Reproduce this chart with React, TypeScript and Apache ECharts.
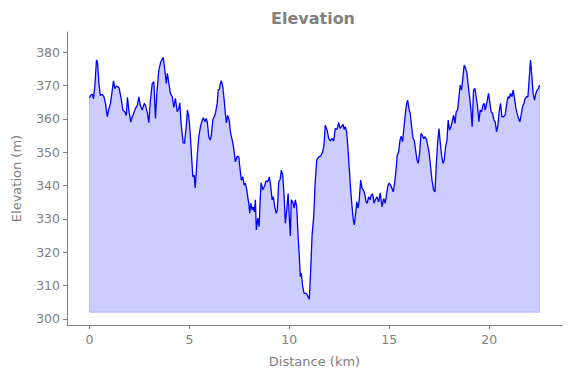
import React, { useEffect, useRef } from "react";
import * as echarts from "echarts";

const distanceKm: number[] = [
  0, 0.05, 0.14, 0.2, 0.27, 0.35, 0.4, 0.47, 0.54, 0.64, 0.72, 0.8, 0.89, 0.97, 1.05, 1.14, 1.2, 1.27, 1.34, 1.47,
  1.57, 1.67, 1.77, 1.84, 1.9, 1.97, 2.07, 2.14, 2.24, 2.3, 2.4, 2.47, 2.54, 2.64, 2.74, 2.8, 2.9, 2.97, 3.05, 3.14,
  3.22, 3.3, 3.37, 3.47, 3.57, 3.69, 3.77, 3.84, 3.9, 3.97, 4.05, 4.14, 4.22, 4.3, 4.39, 4.47, 4.52, 4.59, 4.69, 4.75,
  4.84, 4.9, 4.97, 5.04, 5.1, 5.17, 5.24, 5.29, 5.34, 5.4, 5.47, 5.55, 5.64, 5.7, 5.77, 5.84, 5.9, 5.97, 6.04, 6.1,
  6.17, 6.24, 6.3, 6.39, 6.44, 6.5, 6.55, 6.6, 6.67, 6.74, 6.8, 6.85, 6.92, 6.99, 7.05, 7.14, 7.22, 7.3, 7.39, 7.47,
  7.54, 7.6, 7.67, 7.74, 7.8, 7.87, 7.94, 7.97, 8.02, 8.07, 8.14, 8.19, 8.25, 8.3, 8.35, 8.42, 8.49, 8.54, 8.59, 8.67,
  8.75, 8.84, 8.92, 9.0, 9.07, 9.14, 9.2, 9.27, 9.34, 9.4, 9.47, 9.54, 9.6, 9.67, 9.74, 9.8, 9.87, 9.94, 10.0, 10.05,
  10.1, 10.17, 10.24, 10.3, 10.37, 10.44, 10.5, 10.55, 10.6, 10.67, 10.74, 10.84, 10.94, 11.0, 11.07, 11.14, 11.22, 11.29, 11.37, 11.47,
  11.57, 11.67, 11.73, 11.8, 11.89, 11.97, 12.05, 12.14, 12.22, 12.3, 12.39, 12.47, 12.54, 12.6, 12.69, 12.74, 12.8, 12.87, 12.94, 13.0,
  13.07, 13.14, 13.2, 13.25, 13.32, 13.37, 13.44, 13.5, 13.57, 13.64, 13.7, 13.77, 13.84, 13.9, 13.97, 14.04, 14.1, 14.17, 14.24, 14.3,
  14.39, 14.47, 14.55, 14.64, 14.72, 14.8, 14.87, 14.94, 15.0, 15.07, 15.14, 15.2, 15.27, 15.34, 15.4, 15.47, 15.54, 15.6, 15.67, 15.74,
  15.8, 15.87, 15.92, 16.0, 16.05, 16.12, 16.19, 16.25, 16.32, 16.39, 16.45, 16.52, 16.59, 16.65, 16.72, 16.8, 16.87, 16.94, 17.0, 17.07,
  17.14, 17.22, 17.29, 17.35, 17.42, 17.49, 17.55, 17.62, 17.69, 17.75, 17.82, 17.89, 17.95, 18.02, 18.09, 18.15, 18.22, 18.29, 18.35, 18.42,
  18.49, 18.55, 18.62, 18.69, 18.75, 18.82, 18.89, 18.95, 19.02, 19.09, 19.15, 19.22, 19.29, 19.35, 19.42, 19.49, 19.55, 19.62, 19.69, 19.75,
  19.8, 19.89, 19.97, 20.04, 20.1, 20.17, 20.24, 20.3, 20.37, 20.44, 20.5, 20.57, 20.64, 20.72, 20.8, 20.87, 20.94, 21.0, 21.07, 21.14,
  21.2, 21.27, 21.34, 21.4, 21.47, 21.54, 21.6, 21.67, 21.74, 21.8, 21.87, 21.94, 22.0, 22.07, 22.14, 22.2, 22.27, 22.34, 22.4, 22.47,
  22.52,
];

const elevationM: number[] = [
  366.2, 367, 367.4, 366, 370, 377.6, 377, 370.6, 367, 367.3, 366.6, 364.6, 360.6, 363, 364.6, 368.6, 371.4, 369, 369.8, 369.4,
  366.6, 362.6, 362, 361, 366.4, 362.6, 359, 360.6, 362.1, 363.1, 364.1, 366.6, 364.1, 362.6, 364.6, 364.1, 361.6, 358.8, 365.6, 370.6,
  371.1, 360.1, 367.6, 374.6, 377.1, 378.4, 374.6, 370.6, 373.6, 370.6, 367.6, 366.6, 363.4, 366.1, 362.1, 363.1, 364.8, 358.1, 352.8, 352.6,
  357.6, 362.6, 360.6, 355.6, 349.6, 342.6, 343.1, 339.3, 343.6, 349.6, 354.6, 357.6, 359.6, 360.3, 359.1, 360.1, 358.8, 354.6, 353.6, 355.1,
  359.6, 360.6, 361.6, 364.6, 368.6, 368.8, 370.6, 371.4, 369.6, 365.6, 361.6, 358.8, 361, 359.6, 356.1, 353.6, 351.1, 347.1, 348.8, 348.6,
  344.6, 341.6, 342.6, 340.1, 340.7, 338.7, 335.7, 334.7, 331.7, 334.7, 332.7, 333.6, 332.1, 335.7, 326.7, 330.2, 327.7, 335.7, 340.8, 338.7,
  339.7, 341.4, 341.1, 342.6, 339.7, 335.7, 336.6, 333.6, 331.7, 332.7, 341.1, 341.8, 344.6, 343.1, 336.6, 328.7, 332.7, 337.6, 330.6, 324.9,
  335.7, 335.1, 333.2, 335.7, 333.6, 324.7, 318.7, 312.7, 313.7, 309.7, 307.7, 307.7, 306.7, 305.9, 314.7, 325.2, 330.6, 340.7, 347.6, 348.6,
  348.8, 350.1, 352, 358.1, 356.6, 354.1, 353.4, 354.1, 353.3, 357.1, 356.8, 358.9, 357.1, 357.6, 358.3, 356.8, 357.6, 356.1, 350.6, 345.1,
  338.7, 333.6, 329.7, 328.2, 331.7, 335.1, 333.2, 335.7, 341.6, 339.1, 338.7, 337.6, 335.1, 334.7, 336.6, 335.7, 337.1, 337.5, 334.7, 335.7,
  336.6, 335.1, 337.8, 333.6, 336.1, 334.7, 337.5, 340.1, 340.7, 340.1, 339.1, 338.1, 340.7, 344.6, 349.1, 350.1, 353.6, 354.8, 353.1, 357.6,
  361.1, 364.6, 365.6, 362.6, 361.6, 357.6, 354.1, 353.6, 350.6, 347.6, 346.6, 349.6, 355.6, 355.1, 354.1, 354.6, 353.6, 351.6, 349.6, 345.6,
  341.6, 338.7, 338.1, 345.6, 352.6, 357.1, 353.1, 349.1, 346.6, 347.6, 351.6, 353.6, 359.6, 356.6, 357.6, 359.1, 361.1, 358.6, 362.1, 362.6,
  366.6, 370.1, 368.6, 372.6, 376.1, 375.1, 373.6, 370.1, 366.6, 362.6, 357.6, 368.6, 369.1, 366.6, 363.6, 359.1, 362.6, 362.1, 364.1, 364.6,
  362.6, 365, 367.6, 364.6, 362.1, 361.6, 359.6, 359.1, 356.1, 358.1, 362.1, 364.6, 360.6, 360.6, 361.1, 364.1, 366.6, 366.1, 367.6, 366.6,
  368.6, 366.1, 363.1, 361.6, 360.1, 359.1, 361.1, 363.6, 364.6, 366.1, 366.6, 366.6, 371.6, 377.6, 372.6, 367.6, 365.6, 367.6, 368.6, 369.1,
  370.1,
];

const fillBaseline = 302;
const xTickValues: number[] = [0, 5, 10, 15, 20];
const yTickValues: number[] = [300, 310, 320, 330, 340, 350, 360, 370, 380];

const GRAY = "#808080";
const FONT = "DejaVu Sans";

export default function App() {
  const ref = useRef<HTMLDivElement>(null);

  useEffect(() => {
    document.body.style.margin = "0";
    if (!ref.current) return;
    const chart = echarts.init(ref.current, null, { renderer: "svg" });
    const profile = distanceKm.map((d, i) => [d, elevationM[i]]);
    const n = distanceKm.length;
    const edge = [
      [distanceKm[0], elevationM[0]],
      [distanceKm[0], fillBaseline],
      [distanceKm[n - 1], fillBaseline],
      [distanceKm[n - 1], elevationM[n - 1]],
    ];
    chart.setOption({
      animation: false,
      backgroundColor: "#ffffff",
      title: {
        text: "Elevation",
        left: 271,
        top: 10,
        padding: 0,
        textStyle: { fontFamily: FONT, fontSize: 16, fontWeight: "bold", color: GRAY },
      },
      grid: { left: 67, right: 9, top: 32, bottom: 53, containLabel: false },
      xAxis: {
        type: "value",
        min: -1.126,
        max: 23.646,
        name: "Distance (km)",
        nameLocation: "middle",
        nameGap: 30,
        nameTextStyle: { fontFamily: FONT, fontSize: 13, color: GRAY },
        axisLine: { show: true, onZero: false, lineStyle: { color: GRAY, width: 1 } },
        axisTick: { show: true, inside: false, length: 4, customValues: xTickValues, lineStyle: { color: GRAY } },
        axisLabel: { customValues: xTickValues, margin: 8, fontFamily: FONT, fontSize: 12.5, color: GRAY },
        splitLine: { show: false },
      },
      yAxis: {
        type: "value",
        min: 298.2,
        max: 386,
        name: "Elevation (m)",
        nameLocation: "middle",
        nameGap: 44,
        nameRotate: 90,
        nameTextStyle: { fontFamily: FONT, fontSize: 13, color: GRAY },
        axisLine: { show: true, onZero: false, lineStyle: { color: GRAY, width: 1 } },
        axisTick: { show: true, inside: false, length: 4, customValues: yTickValues, lineStyle: { color: GRAY } },
        axisLabel: { customValues: yTickValues, margin: 7, fontFamily: FONT, fontSize: 12.5, color: GRAY },
        splitLine: { show: false },
      },
      series: [
        {
          name: "fill",
          type: "line",
          data: profile,
          showSymbol: false,
          silent: true,
          lineStyle: { width: 0, opacity: 0 },
          areaStyle: { origin: fillBaseline, color: "rgba(0,0,255,0.2)", opacity: 1 },
          z: 1,
        },
        {
          name: "fillEdge",
          type: "line",
          data: edge,
          showSymbol: false,
          silent: true,
          lineStyle: { width: 1, color: "rgba(0,0,255,0.2)" },
          z: 2,
        },
        {
          name: "Elevation",
          type: "line",
          data: profile,
          showSymbol: false,
          lineStyle: { width: 1.3, color: "#0000ff" },
          z: 3,
        },
      ],
    });
    return () => chart.dispose();
  }, []);

  return <div ref={ref} style={{ width: 571, height: 378 }} />;
}
